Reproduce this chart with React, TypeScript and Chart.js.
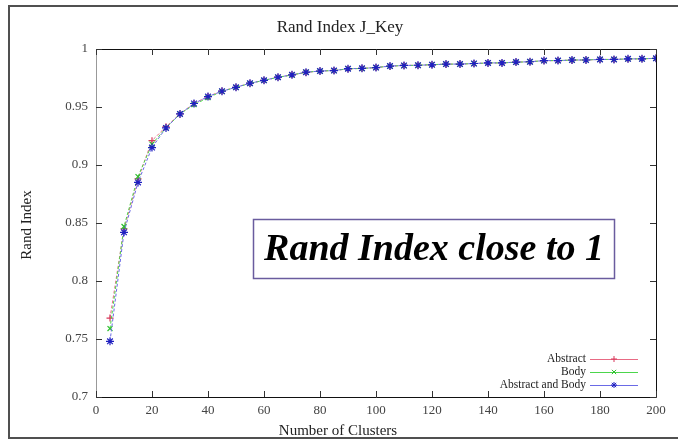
import React, { useEffect, useRef } from 'react';
import { Chart, registerables } from 'chart.js';

Chart.register(...registerables);

const clusters = [5, 10, 15, 20, 25, 30, 35, 40, 45, 50, 55, 60, 65, 70, 75, 80, 85, 90, 95, 100,
  105, 110, 115, 120, 125, 130, 135, 140, 145, 150, 155, 160, 165, 170, 175, 180, 185, 190, 195, 200];

const abstractVals = [0.768, 0.845, 0.888, 0.921, 0.933, 0.944, 0.953, 0.959, 0.9638, 0.967, 0.9705, 0.973, 0.9757, 0.9777, 0.9798, 0.981, 0.9815, 0.9828, 0.9833, 0.984,
  0.9852, 0.9858, 0.986, 0.9864, 0.9869, 0.987, 0.9875, 0.9879, 0.988, 0.9887, 0.989, 0.9899, 0.99, 0.9904, 0.9905, 0.991, 0.991, 0.9914, 0.9915, 0.992];
const bodyVals = [0.759, 0.847, 0.890, 0.918, 0.932, 0.944, 0.952, 0.958, 0.9635, 0.967, 0.9703, 0.973, 0.9756, 0.9776, 0.98, 0.981, 0.9814, 0.983, 0.9832, 0.984,
  0.9853, 0.9857, 0.986, 0.9865, 0.987, 0.987, 0.9874, 0.988, 0.988, 0.9886, 0.989, 0.99, 0.99, 0.9905, 0.9906, 0.991, 0.991, 0.9915, 0.9915, 0.992];
const bothVals = [0.748, 0.842, 0.885, 0.915, 0.932, 0.944, 0.953, 0.959, 0.9636, 0.967, 0.9705, 0.973, 0.9757, 0.9777, 0.98, 0.981, 0.9814, 0.983, 0.9833, 0.984,
  0.9853, 0.9858, 0.986, 0.9864, 0.987, 0.987, 0.9875, 0.988, 0.988, 0.9887, 0.989, 0.99, 0.99, 0.9905, 0.9905, 0.991, 0.991, 0.9915, 0.9915, 0.992];

const seriesNames = ['Abstract', 'Body', 'Abstract and Body'];
const seriesLineColors = ['#e86a84', '#4cd64c', '#6a6ae6'];
const seriesPointColors = ['#d8385a', '#2cc02c', '#2020c0'];
const seriesMarkers = ['cross', 'crossRot', 'star'];

const xTickValues = [0, 20, 40, 60, 80, 100, 120, 140, 160, 180, 200];
const yTickValues = [0.7, 0.75, 0.8, 0.85, 0.9, 0.95, 1];

const chartTitle = 'Rand Index J_Key';
const xTitle = 'Number of Clusters';
const yTitle = 'Rand Index';
const noteText = 'Rand Index close to 1';

const SERIF = '"Liberation Serif", "DejaVu Serif", serif';

function drawMarker(ctx: CanvasRenderingContext2D, kind: string, x: number, y: number, r: number) {
  ctx.beginPath();
  if (kind === 'cross' || kind === 'star') {
    ctx.moveTo(x - r, y); ctx.lineTo(x + r, y);
    ctx.moveTo(x, y - r); ctx.lineTo(x, y + r);
  }
  if (kind === 'crossRot' || kind === 'star') {
    const d = r * 0.72;
    ctx.moveTo(x - d, y - d); ctx.lineTo(x + d, y + d);
    ctx.moveTo(x - d, y + d); ctx.lineTo(x + d, y - d);
  }
  ctx.stroke();
}

const decoPlugin = {
  id: 'deco',
  beforeDraw(chart: any) {
    const ctx = chart.ctx as CanvasRenderingContext2D;
    ctx.save();
    ctx.fillStyle = '#ffffff';
    ctx.fillRect(0, 0, chart.width, chart.height);
    ctx.restore();
  },
  afterDraw(chart: any) {
    const ctx = chart.ctx as CanvasRenderingContext2D;
    const a = chart.chartArea;
    const xs = chart.scales.x;
    const ys = chart.scales.y;
    ctx.save();

    // outer frame
    ctx.strokeStyle = '#505050';
    ctx.lineWidth = 2;
    ctx.beginPath();
    ctx.moveTo(chart.width + 2, 6);
    ctx.lineTo(9, 6);
    ctx.lineTo(9, 438);
    ctx.lineTo(chart.width + 2, 438);
    ctx.stroke();

    // plot box
    ctx.lineWidth = 1;
    ctx.strokeStyle = '#111';
    ctx.beginPath();
    ctx.moveTo(a.left, a.top + 0.5); ctx.lineTo(a.right + 0.5, a.top + 0.5);
    ctx.lineTo(a.right + 0.5, a.bottom + 0.5); ctx.lineTo(a.left, a.bottom + 0.5);
    ctx.stroke();
    ctx.strokeStyle = '#999';
    ctx.beginPath();
    ctx.moveTo(a.left + 0.5, a.top); ctx.lineTo(a.left + 0.5, a.bottom);
    ctx.stroke();

    // inward ticks
    ctx.strokeStyle = '#333';
    ctx.beginPath();
    xTickValues.forEach((v) => {
      const px = Math.round(xs.getPixelForValue(v)) + 0.5;
      ctx.moveTo(px, a.bottom); ctx.lineTo(px, a.bottom - 6);
      ctx.moveTo(px, a.top); ctx.lineTo(px, a.top + 6);
    });
    yTickValues.forEach((v) => {
      const py = Math.round(ys.getPixelForValue(v)) + 0.5;
      ctx.moveTo(a.left, py); ctx.lineTo(a.left + 6, py);
      ctx.moveTo(a.right, py); ctx.lineTo(a.right - 6, py);
    });
    ctx.stroke();

    // titles
    ctx.fillStyle = '#222';
    ctx.textAlign = 'center';
    ctx.textBaseline = 'middle';
    ctx.font = `17px ${SERIF}`;
    ctx.fillText(chartTitle, 340, 28);
    ctx.font = `15px ${SERIF}`;
    ctx.fillText(xTitle, 338, 431);
    ctx.save();
    ctx.translate(27, 225);
    ctx.rotate(-Math.PI / 2);
    ctx.fillText(yTitle, 0, 0);
    ctx.restore();

    // legend
    ctx.font = `11.5px ${SERIF}`;
    ctx.textAlign = 'right';
    seriesNames.forEach((name, i) => {
      const ry = a.bottom - 38 + i * 13;
      ctx.fillStyle = '#222';
      ctx.fillText(name, a.right - 70, ry);
      ctx.strokeStyle = seriesLineColors[i];
      ctx.lineWidth = 1;
      ctx.beginPath();
      ctx.moveTo(a.right - 66, ry + 0.5); ctx.lineTo(a.right - 18, ry + 0.5);
      ctx.stroke();
      ctx.strokeStyle = seriesPointColors[i];
      drawMarker(ctx, seriesMarkers[i], a.right - 42, ry, 3);
    });

    // annotation box
    ctx.strokeStyle = '#6a5c9e';
    ctx.lineWidth = 1.5;
    ctx.strokeRect(253.5, 219.5, 361, 59);
    ctx.fillStyle = '#000';
    ctx.textAlign = 'center';
    ctx.font = `italic bold 38px ${SERIF}`;
    ctx.fillText(noteText, 434, 250);

    ctx.restore();
  },
};

export default function App() {
  const ref = useRef<HTMLCanvasElement | null>(null);

  useEffect(() => {
    if (!ref.current) return;
    const valueSets = [abstractVals, bodyVals, bothVals];
    const chart = new Chart(ref.current, {
      type: 'scatter',
      data: {
        datasets: valueSets.map((vals, i) => ({
          label: seriesNames[i],
          data: clusters.map((c, j) => ({ x: c, y: vals[j] })),
          showLine: true,
          borderColor: seriesLineColors[i],
          backgroundColor: seriesPointColors[i],
          pointBorderColor: seriesPointColors[i],
          borderWidth: 1,
          borderDash: [3, 2],
          pointStyle: seriesMarkers[i] as any,
          pointRadius: i === 2 ? 4 : 3.5,
          pointBorderWidth: 1.2,
          pointHoverRadius: 0,
          order: 2 - i,
        })),
      },
      options: {
        animation: false,
        responsive: false,
        events: [],
        layout: { padding: { top: 49, right: 22, left: 0, bottom: 0 } },
        plugins: {
          legend: { display: false },
          title: { display: false },
          tooltip: { enabled: false },
        },
        scales: {
          x: {
            type: 'linear',
            min: 0,
            max: 200,
            grid: { display: false, drawTicks: false },
            border: { display: false },
            afterFit: (s: any) => { s.height = 42; },
            afterBuildTicks: (s: any) => { s.ticks = xTickValues.map((v) => ({ value: v })); },
            ticks: {
              padding: 6,
              color: '#444',
              font: { family: SERIF, size: 13 },
              maxRotation: 0,
              autoSkip: false,
            },
          },
          y: {
            type: 'linear',
            min: 0.7,
            max: 1,
            grid: { display: false, drawTicks: false },
            border: { display: false },
            afterFit: (s: any) => { s.width = 96; },
            afterBuildTicks: (s: any) => { s.ticks = yTickValues.map((v) => ({ value: v })); },
            ticks: {
              padding: 8,
              color: '#444',
              font: { family: SERIF, size: 13 },
              autoSkip: false,
              callback: (v: any) => String(Number(Number(v).toFixed(2))),
            },
          },
        },
      },
      plugins: [decoPlugin],
    });
    return () => chart.destroy();
  }, []);

  return (
    <div style={{ position: 'fixed', left: 0, top: 0, width: 678, height: 439, background: '#fff' }}>
      <canvas ref={ref} width={678} height={439} style={{ display: 'block', width: 678, height: 439 }} />
    </div>
  );
}
